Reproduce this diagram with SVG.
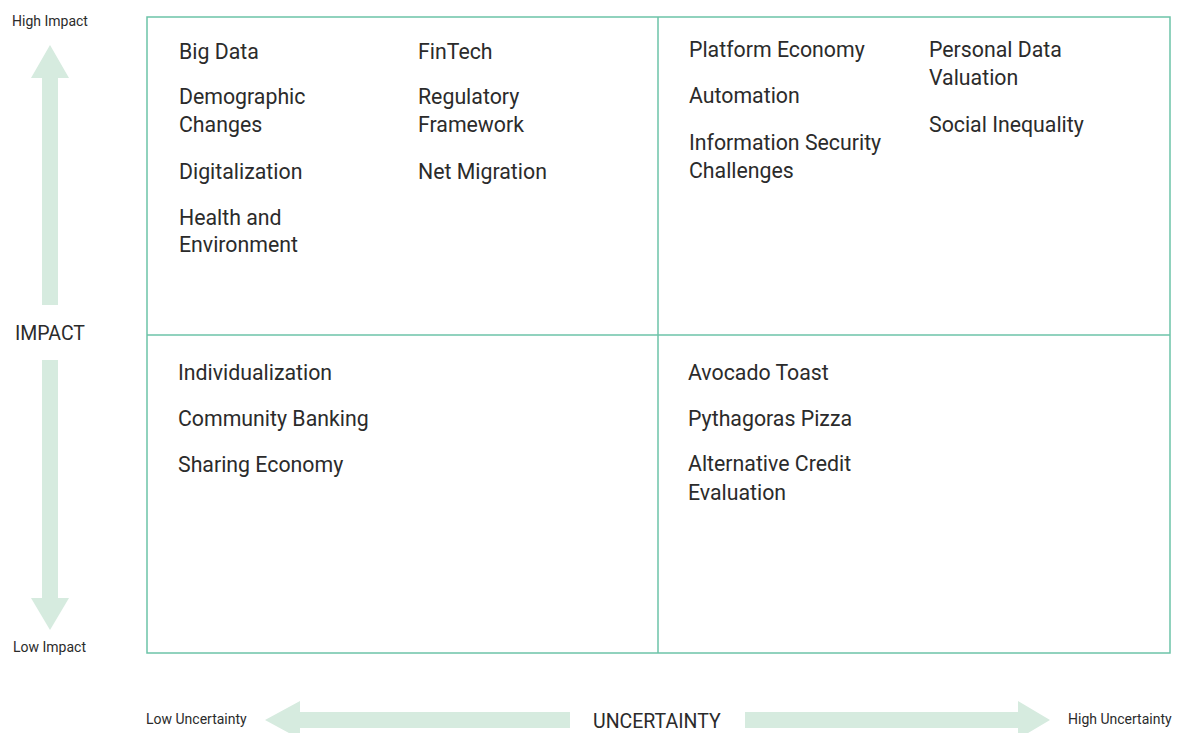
<svg xmlns="http://www.w3.org/2000/svg" width="1178" height="733" viewBox="0 0 1178 733">
<style>
.grid{fill:none;stroke:#6cc3a8;stroke-width:1.5}
.arrow{fill:#d6ebdf}
.item{font-family:Roboto,"Liberation Sans",sans-serif;font-size:21.3px;fill:#2b2b2b}
.small{font-family:Roboto,"Liberation Sans",sans-serif;font-size:14px;fill:#2b2b2b}
.axis{font-family:Roboto,"Liberation Sans",sans-serif;font-size:19.5px;fill:#2b2b2b}
</style>
<rect width="1178" height="733" fill="#ffffff"/>
<g id="grid">
<rect class="grid" x="147" y="17" width="1023" height="636"/>
<line class="grid" x1="658" y1="17" x2="658" y2="653"/>
<line class="grid" x1="147" y1="335" x2="1170" y2="335"/>
</g>
<g id="connectors">
<polygon class="arrow" points="50,45 69,78 58,78 58,305 42,305 42,78 31,78"/>
<polygon class="arrow" points="50,630 69,598 58,598 58,360 42,360 42,598 31,598"/>
<polygon class="arrow" points="265,720 300,701 300,712 570,712 570,728 300,728 300,739"/>
<polygon class="arrow" points="1050,720 1018,701 1018,712 745,712 745,728 1018,728 1018,739"/>
</g>
<g id="axis-labels">
<text class="small" x="12" y="26">High Impact</text>
<text class="axis" x="15" y="340">IMPACT</text>
<text class="small" x="13" y="652">Low Impact</text>
<text class="small" x="146" y="724">Low Uncertainty</text>
<text class="axis" x="593" y="728">UNCERTAINTY</text>
<text class="small" x="1068" y="724">High Uncertainty</text>
</g>
<g id="q-high-low">
<text class="item" x="179" y="59">Big Data</text>
<text class="item" x="179" y="104">Demographic</text>
<text class="item" x="179" y="132">Changes</text>
<text class="item" x="179" y="179">Digitalization</text>
<text class="item" x="179" y="225">Health and</text>
<text class="item" x="179" y="252">Environment</text>
<text class="item" x="418" y="59">FinTech</text>
<text class="item" x="418" y="104">Regulatory</text>
<text class="item" x="418" y="132">Framework</text>
<text class="item" x="418" y="179">Net Migration</text>
</g>
<g id="q-high-high">
<text class="item" x="689" y="57">Platform Economy</text>
<text class="item" x="689" y="103">Automation</text>
<text class="item" x="689" y="150">Information Security</text>
<text class="item" x="689" y="178">Challenges</text>
<text class="item" x="929" y="57">Personal Data</text>
<text class="item" x="929" y="85">Valuation</text>
<text class="item" x="929" y="132">Social Inequality</text>
</g>
<g id="q-low-low">
<text class="item" x="178" y="380">Individualization</text>
<text class="item" x="178" y="426">Community Banking</text>
<text class="item" x="178" y="472">Sharing Economy</text>
</g>
<g id="q-low-high">
<text class="item" x="688" y="380">Avocado Toast</text>
<text class="item" x="688" y="426">Pythagoras Pizza</text>
<text class="item" x="688" y="471">Alternative Credit</text>
<text class="item" x="688" y="500">Evaluation</text>
</g>
</svg>
